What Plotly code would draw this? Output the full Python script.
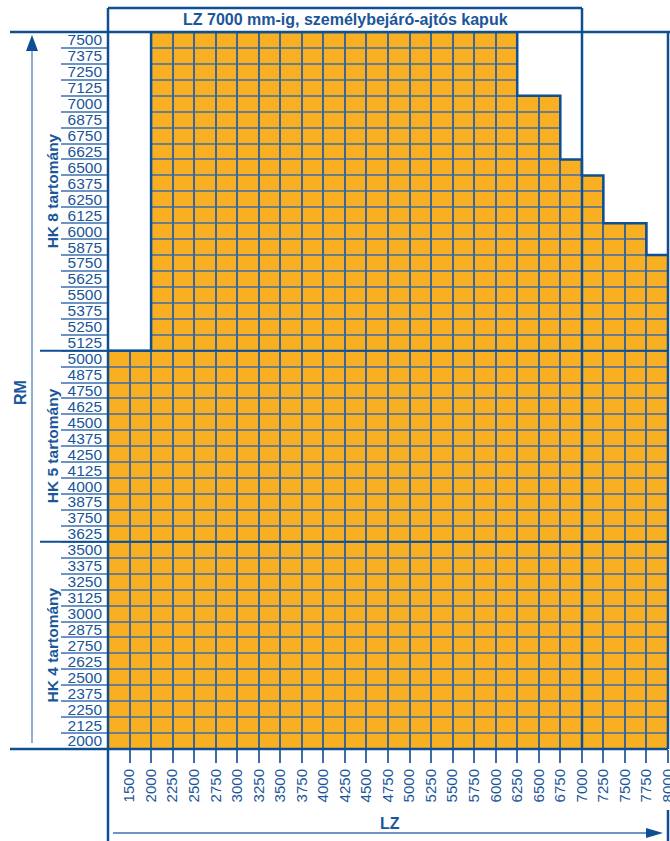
import plotly.graph_objects as go

# LZ column labels (right edge of each column) and RM row labels (bottom -> top)
lz_labels = ["1500", "2000", "2250", "2500", "2750", "3000", "3250", "3500", "3750",
             "4000", "4250", "4500", "4750", "5000", "5250", "5500", "5750", "6000",
             "6250", "6500", "6750", "7000", "7250", "7500", "7750", "8000"]
rm_values = [2000, 2125, 2250, 2375, 2500, 2625, 2750, 2875, 3000, 3125, 3250, 3375,
             3500, 3625, 3750, 3875, 4000, 4125, 4250, 4375, 4500, 4625, 4750, 4875,
             5000, 5125, 5250, 5375, 5500, 5625, 5750, 5875, 6000, 6125, 6250, 6375,
             6500, 6625, 6750, 6875, 7000, 7125, 7250, 7375, 7500]
# highest available RM for each LZ column
max_rm = [5000, 5000, 7500, 7500, 7500, 7500, 7500, 7500, 7500, 7500, 7500, 7500, 7500,
          7500, 7500, 7500, 7500, 7500, 7500, 7000, 7000, 6500, 6375, 6000, 6000, 5750]
groups = [("HK 4 tartomány", 2000, 3500), ("HK 5 tartomány", 3625, 5000),
          ("HK 8 tartomány", 5125, 7500)]
title = "LZ 7000 mm-ig, személybejáró-ajtós kapuk"

BLUE = "#1a5699"
DARK = "#0e4f94"
LIGHT = "#6d94c4"
ORANGE = "#f8b022"
VGRID = "#3f6890"
HGRID = "#6e7d88"
FONT = "Liberation Sans, Arial, sans-serif"

# plot area in pixels
L, R, T, B = 108, 668, 32, 749


def px(x):
    return (x - L) / (R - L)


def py(y):
    return (B - y) / (B - T)


ncol, nrow = len(lz_labels), len(rm_values)
z = [[1 if rm_values[r] <= max_rm[c] else None for c in range(ncol)] for r in range(nrow)]
cols = list(range(ncol))
rows = list(range(nrow))

fig = go.Figure()
# three stacked layers: vertical grid colour, horizontal grid colour, orange cells
fig.add_trace(go.Heatmap(x=cols, y=rows, z=z, colorscale=[[0, VGRID], [1, VGRID]],
                         showscale=False, hoverinfo="skip"))
fig.add_trace(go.Heatmap(x=cols, y=rows, z=z, colorscale=[[0, HGRID], [1, HGRID]],
                         showscale=False, xgap=2, ygap=0, hoverinfo="skip"))
fig.add_trace(go.Heatmap(x=cols, y=rows, z=z, colorscale=[[0, ORANGE], [1, ORANGE]],
                         showscale=False, xgap=2, ygap=2, hoverinfo="skip"))

# staircase outline of the filled region
top_idx = [rm_values.index(v) + 0.5 for v in max_rm]
fig.add_trace(go.Scatter(x=[c - 0.5 for c in cols] + [ncol - 0.5], y=top_idx + [top_idx[-1]],
                         mode="lines", line=dict(color=DARK, width=2.5, shape="hv"),
                         cliponaxis=False, hoverinfo="skip", showlegend=False))

shapes = []


def pline(x0, y0, x1, y1, color=DARK, width=2.5):
    shapes.append(dict(type="line", xref="paper", yref="paper", x0=px(x0), y0=py(y0),
                       x1=px(x1), y1=py(y1), line=dict(color=color, width=width)))


pline(10, T, 670, T)            # top border
pline(10, B, R, B)              # bottom border
pline(L, 8, L, 841)             # left border
pline(L, 8, 582, 8)             # title box top
pline(582, 8, 582, B)           # LZ 7000 line
pline(R, T, R, B)               # right border
pline(R, 810, R, 841)
pline(32, 50, 32, 743, LIGHT, 1.5)      # RM arrow
pline(113, 833, 650, 833, LIGHT, 2)     # LZ arrow

# group separators
for name, lo, hi in groups[1:]:
    yb = rm_values.index(lo) - 0.5
    shapes.append(dict(type="line", xref="paper", yref="y", x0=px(40), x1=1, y0=yb, y1=yb,
                       line=dict(color=DARK, width=2)))

# arrow heads
shapes.append(dict(type="path", xref="paper", yref="paper", fillcolor=DARK, line=dict(width=0),
                   path=f"M {px(26)} {py(51)} L {px(38)} {py(51)} L {px(32)} {py(35)} Z"))
shapes.append(dict(type="path", xref="paper", yref="paper", fillcolor=DARK, line=dict(width=0),
                   path=f"M {px(646)} {py(828)} L {px(646)} {py(838)} L {px(663)} {py(833)} Z"))

annotations = [
    dict(text=f"<b>{title}</b>", x=px(345), y=py(20), font=dict(size=16, color=BLUE)),
    dict(text="<b>RM</b>", x=px(20), y=py(393), textangle=-90, font=dict(size=16, color=BLUE)),
    dict(text="<b>LZ</b>", x=px(390), y=py(823), font=dict(size=16, color=BLUE)),
]
for k, (a, b) in enumerate([(rm_values.index(g[1]), rm_values.index(g[2])) for g in groups]):
    annotations.append(dict(text=f"<b>{groups[k][0]}</b>", x=px(52), y=(a + b) / 2, yref="y",
                            textangle=-90, font=dict(size=15.5, color=BLUE)))
for a in annotations:
    a.setdefault("xref", "paper")
    a.setdefault("yref", "paper")
    a["showarrow"] = False
    a["xanchor"] = "center"
    a["yanchor"] = "middle"

fig.update_layout(
    width=670, height=841,
    margin=dict(l=L, r=670 - R, t=T, b=841 - B),
    paper_bgcolor="white", plot_bgcolor="white",
    font=dict(family=FONT, color=BLUE),
    shapes=shapes, annotations=annotations, showlegend=False,
)
fig.update_xaxes(range=[-0.5, ncol - 0.5 + 1e-6], tickvals=[c + 0.5 for c in cols],
                 ticktext=lz_labels, tickangle=-90, ticks="outside", ticklen=13, tickwidth=1.5,
                 tickcolor="#3d6da6", tickfont=dict(size=15, color=BLUE), showgrid=False,
                 zeroline=False, showline=False, ticklabeloverflow="allow", automargin=False,
                 fixedrange=True)
fig.update_yaxes(range=[-0.5, nrow - 0.5], tickvals=rows, ticktext=[str(v) for v in rm_values],
                 ticks="", tickfont=dict(size=15.5, color=BLUE), showgrid=False, zeroline=False,
                 showline=False, ticklabelstandoff=5, automargin=False,
                 minor=dict(tickvals=[r - 0.5 for r in rows] + [nrow - 0.5], ticks="outside",
                            ticklen=46, tickwidth=1.5, tickcolor=LIGHT),
                 fixedrange=True)

fig.write_html("out.html", config={"displayModeBar": False},
               post_script="document.body.style.margin='0';")
